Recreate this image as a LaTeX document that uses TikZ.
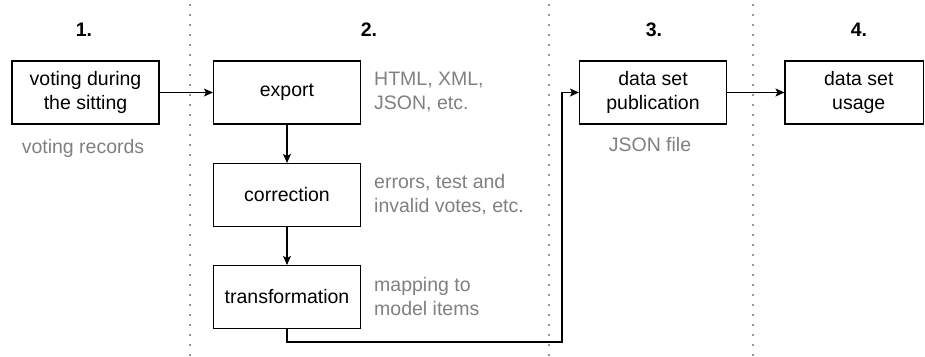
\documentclass[tikz,border=0pt]{standalone}
\usepackage{fontspec}
\setmainfont{Liberation Sans}
\usetikzlibrary{arrows.meta}
\definecolor{notegray}{HTML}{808080}
\definecolor{sepgray}{HTML}{959595}
\tikzset{
  stage/.style={draw=black, line width=1.1pt, minimum width=147pt, minimum height=63pt,
                inner sep=2pt, align=center, font=\fontsize{19.5}{24}\selectfont},
  note/.style={text=notegray, align=left, inner sep=0pt, font=\fontsize{19.5}{24}\selectfont},
  head/.style={inner sep=0pt, font=\fontsize{19.5}{24}\selectfont\bfseries},
  flow/.style={line width=1.1pt, -{Stealth[length=9pt, width=8pt, inset=2pt]}},
  sep/.style={sepgray, line width=2pt, dash pattern=on 2pt off 8pt}
}
\begin{document}
\begin{tikzpicture}[x=1pt, y=-1pt]
  \useasboundingbox (0,0) rectangle (925,356);

  % column separators
  \coordinate (s1t) at (190,4);   \coordinate (s1b) at (190,356);
  \coordinate (s2t) at (549,4);   \coordinate (s2b) at (549,356);
  \coordinate (s3t) at (753,4);   \coordinate (s3b) at (753,356);
  \draw[sep] (s1t) -- (s1b);
  \draw[sep] (s2t) -- (s2b);
  \draw[sep] (s3t) -- (s3b);

  % column headings
  \node[head] (h1) at (84,30)  {1.};
  \node[head] (h2) at (369,30) {2.};
  \node[head] (h3) at (654,30) {3.};
  \node[head] (h4) at (859,30) {4.};

  % stages
  \node[stage] (vote)   at (85.5,92.5)  {voting during\\the sitting};
  \node[stage] (export) at (287,92.5)   {export};
  \node[stage] (corr)   at (287,195)    {correction};
  \node[stage] (trans)  at (287,297)    {transformation};
  \node[stage] (pub)    at (653,92.5)   {data set\\publication};
  \node[stage, minimum width=138.5pt] (usage) at (854.25,92.5) {};
  \node[align=center, inner sep=0pt, font=\fontsize{19.5}{24}\selectfont] (usagetext)
       at ([xshift=4.5pt]usage.center) {data set\\usage};

  % annotations
  \node[note, anchor=north] (n1) at (83,139) {voting records};
  \node[note, anchor=west] (n2) at (374,92.5) {HTML, XML,\\JSON, etc.};
  \node[note, anchor=west] (n3) at (374,195)  {errors, test and\\invalid votes, etc.};
  \node[note, anchor=west] (n4) at (374,297)  {mapping to\\model items};
  \node[note, anchor=north] (n5) at (650,137) {JSON file};

  % flow
  \coordinate (c1) at (287,342);
  \coordinate (c2) at (562,342);
  \coordinate (c3) at (562,92.5);
  \draw[flow] (vote) -- (export);
  \draw[flow] (export) -- (corr);
  \draw[flow] (corr) -- (trans);
  \draw[flow] (trans.south) -- (c1) -- (c2) -- (c3) -- (pub.west);
  \draw[flow] (pub) -- (usage);
\end{tikzpicture}
\end{document}
